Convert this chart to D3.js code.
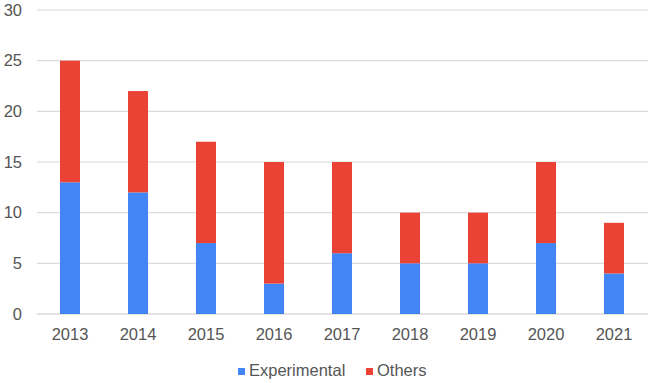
<!DOCTYPE html>
<html lang="en">
<head>
    <meta charset="UTF-8">
    <title>Stacked bars</title>
    <script src="https://d3js.org/d3.v7.min.js"></script>
    <style>
        body { margin: 0; padding: 0; background: #fff; font-family: Arial, "Liberation Sans", sans-serif; }
        .tick text { fill: #555; font-size: 16.5px; }
    </style>
</head>
<body>
    <svg id="chart" width="651" height="383"></svg>
    <script>
        // data
        const years = ["2013", "2014", "2015", "2016", "2017", "2018", "2019", "2020", "2021"];
        const experimental = [13, 12, 7, 3, 6, 5, 5, 7, 4];
        const others = [12, 10, 10, 12, 9, 5, 5, 8, 5];
        const seriesNames = ["Experimental", "Others"];
        const colors = ["#4285F4", "#EA4335"];
        const yTicks = [0, 5, 10, 15, 20, 25, 30];

        const svg = d3.select("#chart");
        const plotLeft = 36, plotRight = 648, plotTop = 10, plotBottom = 314;

        const rows = years.map((y, i) => ({ year: y, Experimental: experimental[i], Others: others[i] }));
        const stacked = d3.stack().keys(seriesNames)(rows);

        const x = d3.scaleBand().domain(years).range([plotLeft, plotRight]).paddingInner(0.706).paddingOuter(0.353);
        const y = d3.scaleLinear().domain([0, 30]).range([plotBottom, plotTop]);

        // grid lines
        svg.append("g")
            .selectAll("line")
            .data(yTicks)
            .join("line")
            .attr("x1", plotLeft + 1).attr("x2", plotRight)
            .attr("y1", d => y(d)).attr("y2", d => y(d))
            .attr("stroke", d => d === 0 ? "#c8c8c8" : "#d9d9d9")
            .attr("stroke-width", 1.2);

        // y axis labels
        const yAxis = svg.append("g")
            .attr("transform", `translate(22,0)`)
            .call(d3.axisLeft(y).tickValues(yTicks).tickSize(0).tickPadding(0));
        yAxis.select(".domain").remove();

        // bars
        svg.append("g")
            .selectAll("g")
            .data(stacked)
            .join("g")
            .attr("fill", (d, i) => colors[i])
            .selectAll("rect")
            .data(d => d)
            .join("rect")
            .attr("x", d => x(d.data.year))
            .attr("width", x.bandwidth())
            .attr("y", d => y(d[1]))
            .attr("height", d => y(d[0]) - y(d[1]));

        // x axis labels
        const xAxis = svg.append("g")
            .attr("transform", `translate(0,${plotBottom + 14})`)
            .call(d3.axisBottom(x).tickSize(0).tickPadding(0));
        xAxis.select(".domain").remove();

        // legend
        const legend = svg.append("g").attr("transform", "translate(238,376)");
        const legendX = [0, 128];
        seriesNames.forEach((name, i) => {
            const g = legend.append("g").attr("transform", `translate(${legendX[i]},0)`);
            g.append("rect").attr("x", 0).attr("y", -8).attr("width", 7).attr("height", 7).attr("fill", colors[i]);
            g.append("text").attr("x", 11).attr("y", 0)
                .attr("fill", "#555").attr("font-size", 16.5).text(name);
        });
    </script>
</body>
</html>
